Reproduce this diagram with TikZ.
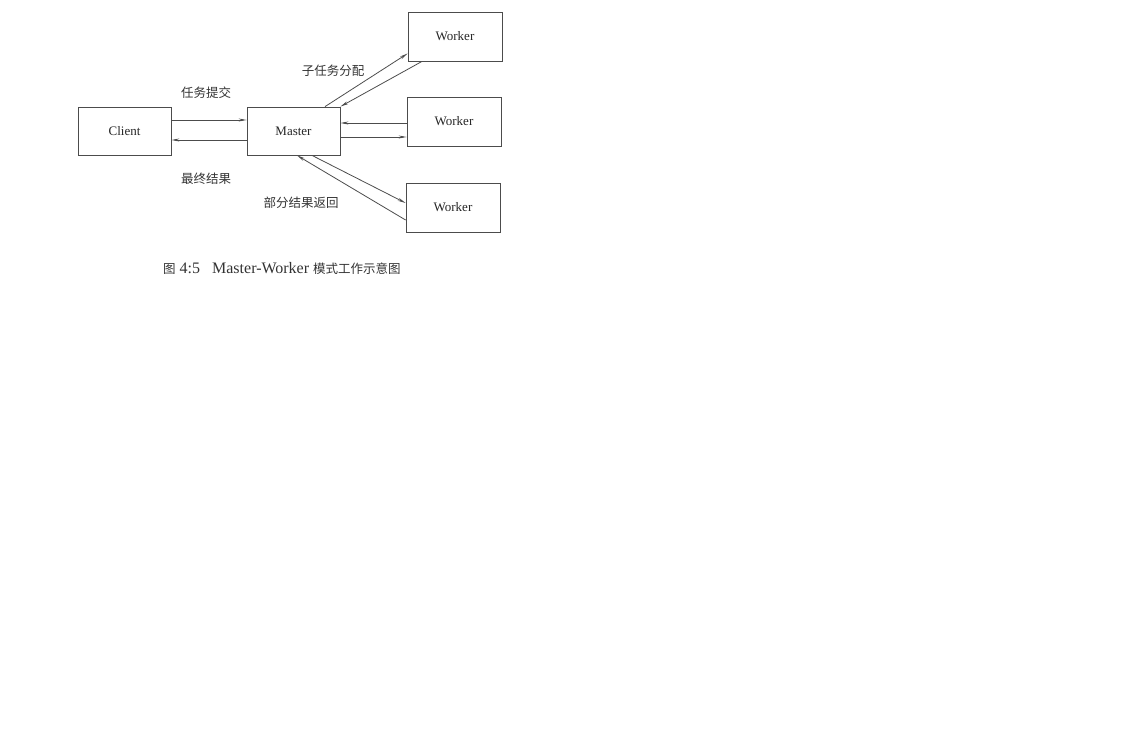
\documentclass[tikz,border=0pt]{standalone}
\usepackage{fontspec}
\setmainfont{Liberation Serif}
\newfontfamily\cjk{Noto Sans CJK SC}
\usetikzlibrary{arrows.meta}
\definecolor{inkgray}{gray}{0.3}
\tikzset{
    box/.style={draw=inkgray, line width=0.8pt, minimum width=93pt, minimum height=48pt, inner sep=0pt, font=\fontsize{13}{14}\selectfont, text=black!85},
    arr/.style={draw=inkgray, line width=0.8pt, -{Stealth[length=8pt,width=3pt]}},
    lbl/.style={font=\cjk\fontsize{12.5}{13}\selectfont, text=black!80}
}
\begin{document}
\begin{tikzpicture}[x=1pt, y=-1pt]
        % Page frame, same size as the scan
        \useasboundingbox (0,0) rectangle (1133,755);

        % Boxes
        \node[box] (client) at (124.5,131) {Client};
        \node[box] (master) at (293.5,131) {Master};
        \node[box, minimum width=94pt, minimum height=49pt] (worker1) at (455,36.5) {Worker};
        \node[box, minimum width=94pt, minimum height=49pt] (worker2) at (454,121.5) {Worker};
        \node[box, minimum width=94pt, minimum height=49pt] (worker3) at (453,207.5) {Worker};

        % Client and Master
        \draw[arr] ([yshift=11pt]client.east) -- ([yshift=11pt]master.west);
        \draw[arr] ([yshift=-9pt]master.west) -- ([yshift=-9pt]client.east);

        % Master and top Worker
        \draw[arr] ([xshift=31.5pt]master.north) -- ([yshift=-17pt]worker1.west);
        \draw[arr] ([xshift=-33pt]worker1.south) -- (master.north east);

        % Master and middle Worker
        \draw[arr] ([yshift=-1.5pt]worker2.west) -- ([yshift=8pt]master.east);
        \draw[arr] ([yshift=-6pt]master.east) -- ([yshift=-15.5pt]worker2.west);

        % Master and bottom Worker
        \draw[arr] ([xshift=18.5pt]master.south) -- ([yshift=4.5pt]worker3.west);
        \draw[arr] ([yshift=-12.5pt]worker3.west) -- ([xshift=3.5pt]master.south);

        % Labels
        \node[lbl] (submit) at (206,93) {任务提交};
        \node[lbl] (final) at (206,179) {最终结果};
        \node[lbl] (assign) at (333,71) {子任务分配};
        \node[lbl] (partial) at (301,203) {部分结果返回};

        % Caption
        \node[anchor=west, font=\fontsize{16}{17}\selectfont, text=black!80, inner sep=0pt] (caption) at (163,268)
            {{\cjk\fontsize{12.5}{13}\selectfont 图}~4:5\hspace{12pt}Master-Worker {\cjk\fontsize{12.5}{13}\selectfont 模式工作示意图}};
\end{tikzpicture}
\end{document}
